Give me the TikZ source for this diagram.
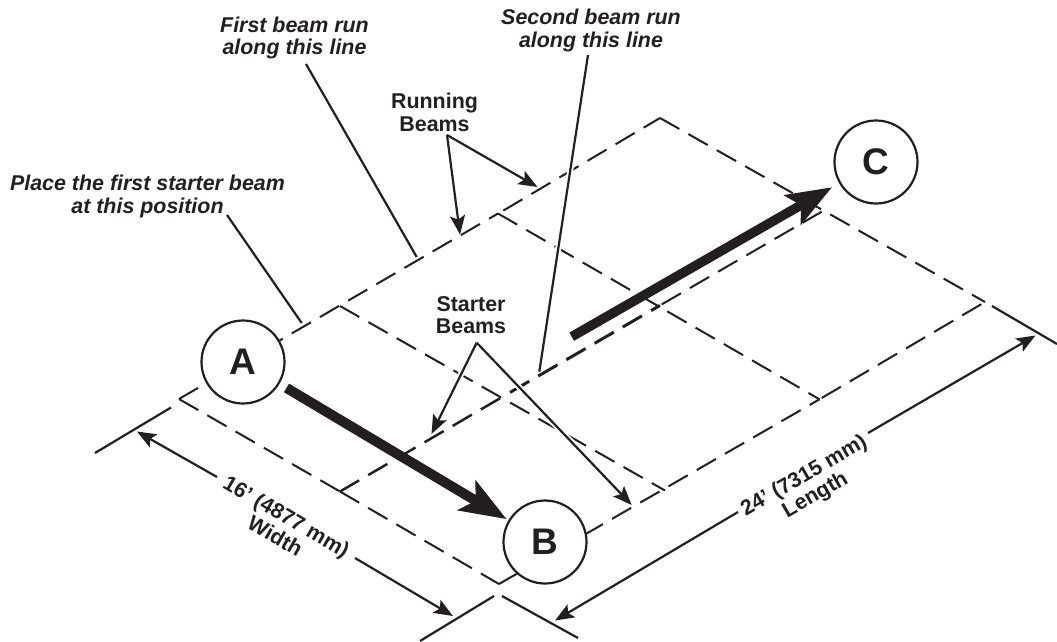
\documentclass[tikz,border=0pt]{standalone}
\usepackage{fontspec}
\setmainfont{Liberation Sans}
\usetikzlibrary{arrows.meta}
\definecolor{ink}{HTML}{231F20}
\tikzset{
  beam/.style={draw=ink,line width=2pt,dash pattern=on 22.2pt off 10.4pt},
  starterdash/.style={beam,line width=3pt},
  ext/.style={draw=ink,line width=2.2pt},
  leader/.style={draw=ink,line width=2.2pt},
  casing/.style={draw=white,line width=6pt},
  tipped/.style={leader,-{Stealth[length=19pt,width=15pt,inset=4pt]}},
  lbl/.style={inner sep=0pt,align=center,text=ink,font=\fontsize{21.4}{22.5}\selectfont\bfseries},
  note/.style={lbl,font=\fontsize{21.4}{22.5}\selectfont\bfseries\itshape},
  station/.style={circle,draw=ink,line width=2.2pt,fill=white,minimum size=83pt,inner sep=0pt,text=ink,font=\fontsize{37}{37}\selectfont\bfseries},
  bigA/.style={draw=ink,line width=10pt,-{Stealth[length=46pt,width=34pt,inset=10pt]},fill=ink},
  bigB/.style={draw=ink,line width=9.5pt,-{Stealth[length=45pt,width=33pt,inset=9pt]},fill=ink},
}
\begin{document}
\begin{tikzpicture}[x=1pt,y=-1pt]
\useasboundingbox (0,0) rectangle (1057,641);
% grid points
\coordinate (L) at (179,399);
\coordinate (T) at (660,118);
\coordinate (R) at (985,302);
\coordinate (Bt) at (499,584);
\coordinate (J1) at (340,306);
\coordinate (J2) at (498,213.5);
\coordinate (J2b) at (503.3,210.6);
\coordinate (G) at (340,491.5);
\coordinate (H) at (501,397.7);
\coordinate (Hb) at (510,392.4);
\coordinate (M) at (660,305.4);
\coordinate (Mb) at (661.7,304.4);
\coordinate (N) at (821.7,211.7);
\coordinate (E1) at (665,490.5);
\coordinate (E2) at (819.5,399.3);
\coordinate (E2b) at (821.7,398);
% dashed beams
\draw[beam] (L) -- (J2);
\draw[beam] (J2b) -- (T);
\draw[beam] (T) -- (R);
\draw[beam] (L) -- (G);
\draw[beam] (G) -- (Bt);
\draw[beam] (Bt) -- (E2);
\draw[beam] (E2b) -- (R);
\draw[beam] (J1) -- (E1);
\draw[beam] (J2) -- (E2);
\draw[beam,line width=2.5pt] (G) -- (H);
\draw[starterdash] (Hb) -- (M);
\draw[beam] (Mb) -- (N);
% extension lines
\coordinate (x1a) at (95,453); \coordinate (x1b) at (171,407.5);
\coordinate (x2a) at (420,641); \coordinate (x2b) at (494,596);
\coordinate (x3a) at (502,596); \coordinate (x3b) at (578,638);
\coordinate (x4a) at (992,306); \coordinate (x4b) at (1057,344);
\draw[ext] (x1a) -- (x1b);
\draw[ext] (x2a) -- (x2b);
\draw[ext] (x3a) -- (x3b);
\draw[ext] (x4a) -- (x4b);
% dimension arrows
\coordinate (w1) at (217,477); \coordinate (w1t) at (137,431.5);
\coordinate (w2) at (355,558); \coordinate (w2t) at (453,616);
\coordinate (l1) at (738,512); \coordinate (l1t) at (555,620.5);
\coordinate (l2) at (868,433); \coordinate (l2t) at (1035.5,335.5);
\draw[tipped] (w1) -- (w1t);
\draw[tipped] (w2) -- (w2t);
\draw[tipped] (l1) -- (l1t);
\draw[tipped] (l2) -- (l2t);
% labels
\node[note] (nfirst) at (294.5,38) {First beam run\\along this line};
\node[note] (nsecond) at (591,30.5) {Second beam run\\along this line};
\node[note] (nplace) at (147.5,196.5) {Place the first starter beam\\at this position};
\node[lbl] (nrun) at (434.5,112.5) {Running\\Beams};
\node[lbl] (nstart) at (471,315) {Starter\\Beams};
\node[lbl,rotate=-30] (nw) at (281,526) {16' (4877 mm)\\Width};
\node[lbl,rotate=30] (nl) at (810,486) {24' (7315 mm)\\Length};
% leaders
\coordinate (p1) at (306,64); \coordinate (p2) at (416.7,257);
\coordinate (q1) at (588,55); \coordinate (q2) at (539.3,371.7);
\coordinate (r1) at (227,215); \coordinate (r2) at (301.7,323);
\coordinate (ra) at (447,135); \coordinate (rt1) at (460,234.5); \coordinate (rt2) at (537.5,187);
\coordinate (sa) at (476.7,342.7); \coordinate (st1) at (431.5,434); \coordinate (st2) at (631.7,505);
\draw[casing,shorten >=6pt] (q1) -- (q2);
\draw[casing,shorten >=12pt] (sa) -- (st1);
\draw[casing,shorten >=12pt] (sa) -- (st2);
\draw[leader] (p1) -- (p2);
\draw[leader] (q1) -- (q2);
\draw[leader] (r1) -- (r2);
\draw[tipped] (ra) -- (rt1);
\draw[tipped] (ra) -- (rt2);
\draw[tipped] (sa) -- (st1);
\draw[tipped] (sa) -- (st2);
% stations
\node[station] (A) at (243,362) {A};
\node[station] (B) at (545,542) {B};
\node[station] (C) at (876,162) {C};
\coordinate (c0) at (571.7,336.7);
\draw[bigA,shorten <=8pt,shorten >=2pt] (A) -- (B);
\draw[bigB,shorten >=8pt] (c0) -- (C);
\end{tikzpicture}
\end{document}
